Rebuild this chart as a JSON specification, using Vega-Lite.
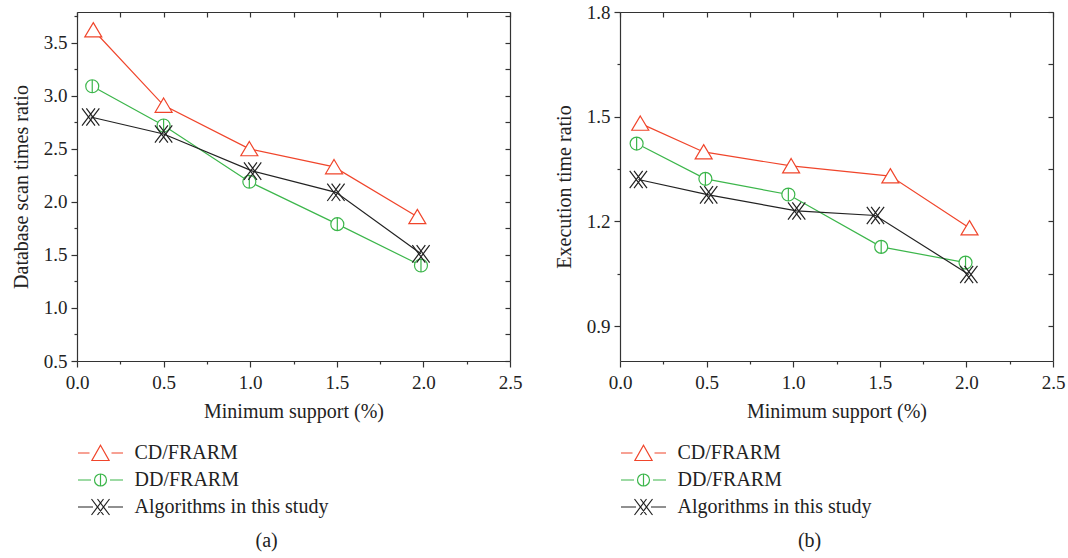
{
  "$schema": "https://vega.github.io/schema/vega-lite/v6.json",
  "padding": {"left": 11, "top": 3, "right": 5, "bottom": 3},
  "background": "white",
  "datasets": {
    "a": [
      {"x": 0.094, "y": 3.62, "series": "CD/FRARM"},
      {"x": 0.5, "y": 2.91, "series": "CD/FRARM"},
      {"x": 0.995, "y": 2.5, "series": "CD/FRARM"},
      {"x": 1.484, "y": 2.33, "series": "CD/FRARM"},
      {"x": 1.965, "y": 1.86, "series": "CD/FRARM"},
      {"x": 0.088, "y": 3.09, "series": "DD/FRARM"},
      {"x": 0.5, "y": 2.72, "series": "DD/FRARM"},
      {"x": 0.995, "y": 2.19, "series": "DD/FRARM"},
      {"x": 1.503, "y": 1.79, "series": "DD/FRARM"},
      {"x": 1.986, "y": 1.4, "series": "DD/FRARM"},
      {"x": 0.079, "y": 2.8, "series": "Algorithms in this study"},
      {"x": 0.5, "y": 2.64, "series": "Algorithms in this study"},
      {"x": 1.014, "y": 2.29, "series": "Algorithms in this study"},
      {"x": 1.495, "y": 2.09, "series": "Algorithms in this study"},
      {"x": 1.986, "y": 1.51, "series": "Algorithms in this study"}
    ],
    "b": [
      {"x": 0.117, "y": 1.481, "series": "CD/FRARM"},
      {"x": 0.483, "y": 1.399, "series": "CD/FRARM"},
      {"x": 0.988, "y": 1.359, "series": "CD/FRARM"},
      {"x": 1.561, "y": 1.33, "series": "CD/FRARM"},
      {"x": 2.018, "y": 1.181, "series": "CD/FRARM"},
      {"x": 0.096, "y": 1.423, "series": "DD/FRARM"},
      {"x": 0.493, "y": 1.322, "series": "DD/FRARM"},
      {"x": 0.972, "y": 1.277, "series": "DD/FRARM"},
      {"x": 1.508, "y": 1.127, "series": "DD/FRARM"},
      {"x": 1.995, "y": 1.082, "series": "DD/FRARM"},
      {"x": 0.106, "y": 1.32, "series": "Algorithms in this study"},
      {"x": 0.512, "y": 1.276, "series": "Algorithms in this study"},
      {"x": 1.02, "y": 1.23, "series": "Algorithms in this study"},
      {"x": 1.475, "y": 1.217, "series": "Algorithms in this study"},
      {"x": 2.014, "y": 1.048, "series": "Algorithms in this study"}
    ]
  },
  "hconcat": [
    {
      "width": 433,
      "height": 349,
      "data": {"name": "a"},
      "title": {"text": "(a)", "orient": "bottom", "anchor": "middle", "frame": "bounds", "fontSize": 20, "font": "Liberation Serif", "fontWeight": "normal", "color": "#222", "offset": 13},
      "resolve": {"axis": {"x": "independent", "y": "independent"}},
      "layer": [
        {
          "mark": {"type": "line", "strokeWidth": 1.2},
          "encoding": {
            "x": {"field": "x", "type": "quantitative", "scale": {"domain": [0, 2.5], "nice": false, "zero": false},
              "axis": {"orient": "bottom", "values": [0, 0.5, 1, 1.5, 2, 2.5], "format": ".1f", "tickSize": 6, "labelPadding": 6, "title": "Minimum support (%)", "titlePadding": 9}},
            "y": {"field": "y", "type": "quantitative", "scale": {"domain": [0.5, 3.79], "nice": false, "zero": false},
              "axis": {"orient": "left", "values": [0.5, 1, 1.5, 2, 2.5, 3, 3.5], "format": ".1f", "tickSize": 6, "labelPadding": 4, "title": "Database scan times ratio", "titlePadding": 12}},
            "stroke": {"field": "series", "type": "nominal",
              "scale": {"domain": ["CD/FRARM", "DD/FRARM", "Algorithms in this study"], "range": ["#f0452b", "#3cb64b", "#222222"]},
              "legend": {"orient": "bottom", "direction": "vertical", "columns": 1, "title": null, "labelFont": "Liberation Serif", "labelFontSize": 20, "labelColor": "#222", "labelLimit": 400, "symbolSize": 400, "symbolOffset": 12.5, "symbolStrokeWidth": 1.2, "symbolOpacity": 1, "symbolFillColor": "transparent", "labelOffset": 23, "rowPadding": 6, "offset": 21}}
          }
        },
        {
          "mark": {"type": "point", "opacity": 0, "filled": false},
          "encoding": {
            "x": {"field": "x", "type": "quantitative", "axis": null},
            "y": {"field": "y", "type": "quantitative", "axis": null},
            "stroke": {"field": "series", "type": "nominal"},
            "shape": {"field": "series", "type": "nominal",
              "scale": {"domain": ["CD/FRARM", "DD/FRARM", "Algorithms in this study"], "range": ["M-2.25,0L-1.1,0M1.1,0L2.25,0M0,-0.78L0.86,0.75L-0.86,0.75Z", "M-2.25,0L-0.95,0M0.95,0L2.25,0M-0.6,0A0.6,0.6,0,1,0,0.6,0A0.6,0.6,0,1,0,-0.6,0M0,-0.6L0,0.6", "M-2.25,0L-0.75,0M0.75,0L2.25,0M-0.9,-0.8L0.3,0.8M-0.3,-0.8L0.9,0.8M-0.9,0.8L0.3,-0.8M-0.3,0.8L0.9,-0.8"]},
              "legend": {"orient": "bottom", "direction": "vertical", "columns": 1, "title": null, "labelFont": "Liberation Serif", "labelFontSize": 20, "labelColor": "#222", "labelLimit": 400, "symbolSize": 400, "symbolOffset": 12.5, "symbolStrokeWidth": 1.2, "symbolOpacity": 1, "symbolFillColor": "transparent", "labelOffset": 23, "rowPadding": 6, "offset": 21}}
          }
        },
        {
          "transform": [{"filter": "datum.series === 'CD/FRARM'"}],
          "mark": {"type": "point", "shape": "M0,-0.85L0.98,0.8L-0.98,0.8Z", "fill": "white", "strokeWidth": 1.2, "size": 300, "opacity": 1},
          "encoding": {
            "x": {"field": "x", "type": "quantitative", "axis": {"orient": "top", "values": [0, 0.25, 0.5, 0.75, 1, 1.25, 1.5, 1.75, 2, 2.25, 2.5], "tickSize": -5, "labels": false, "title": null}},
            "y": {"field": "y", "type": "quantitative", "axis": {"orient": "right", "values": [0.5, 0.75, 1, 1.25, 1.5, 1.75, 2, 2.25, 2.5, 2.75, 3, 3.25, 3.5, 3.75], "tickSize": -5, "labels": false, "title": null}},
            "stroke": {"field": "series", "type": "nominal"}
          }
        },
        {
          "transform": [{"filter": "datum.series === 'DD/FRARM'"}],
          "mark": {"type": "point", "shape": "M-0.75,0A0.75,0.75,0,1,0,0.75,0A0.75,0.75,0,1,0,-0.75,0ZM0,-0.75L0,0.75", "fill": "white", "strokeWidth": 1.2, "size": 300, "opacity": 1},
          "encoding": {
            "x": {"field": "x", "type": "quantitative", "axis": null},
            "y": {"field": "y", "type": "quantitative", "axis": null},
            "stroke": {"field": "series", "type": "nominal"}
          }
        },
        {
          "transform": [{"filter": "datum.series === 'Algorithms in this study'"}],
          "mark": {"type": "point", "shape": "M-1,-1L0.5,1M-0.5,-1L1,1M-1,1L0.5,-1M-0.5,1L1,-1", "fill": "transparent", "strokeWidth": 1.2, "size": 300, "opacity": 1},
          "encoding": {
            "x": {"field": "x", "type": "quantitative", "axis": {"orient": "bottom", "values": [0.25, 0.75, 1.25, 1.75, 2.25], "tickSize": 3, "labels": false, "domain": false, "title": null}},
            "y": {"field": "y", "type": "quantitative", "axis": {"orient": "left", "values": [0.75, 1.25, 1.75, 2.25, 2.75, 3.25, 3.75], "tickSize": 3, "labels": false, "domain": false, "title": null}},
            "stroke": {"field": "series", "type": "nominal"}
          }
        }
      ]
    },
    {
      "width": 433,
      "height": 349,
      "data": {"name": "b"},
      "title": {"text": "(b)", "orient": "bottom", "anchor": "middle", "frame": "bounds", "fontSize": 20, "font": "Liberation Serif", "fontWeight": "normal", "color": "#222", "offset": 13},
      "resolve": {"axis": {"x": "independent", "y": "independent"}},
      "layer": [
        {
          "mark": {"type": "line", "strokeWidth": 1.2},
          "encoding": {
            "x": {"field": "x", "type": "quantitative", "scale": {"domain": [0, 2.5], "nice": false, "zero": false},
              "axis": {"orient": "bottom", "values": [0, 0.5, 1, 1.5, 2, 2.5], "format": ".1f", "tickSize": 6, "labelPadding": 6, "title": "Minimum support (%)", "titlePadding": 9}},
            "y": {"field": "y", "type": "quantitative", "scale": {"domain": [0.8, 1.8], "nice": false, "zero": false},
              "axis": {"orient": "left", "values": [0.9, 1.2, 1.5, 1.8], "format": ".1f", "tickSize": 6, "labelPadding": 4, "title": "Execution time ratio", "titlePadding": 12}},
            "stroke": {"field": "series", "type": "nominal",
              "scale": {"domain": ["CD/FRARM", "DD/FRARM", "Algorithms in this study"], "range": ["#f0452b", "#3cb64b", "#222222"]},
              "legend": {"orient": "bottom", "direction": "vertical", "columns": 1, "title": null, "labelFont": "Liberation Serif", "labelFontSize": 20, "labelColor": "#222", "labelLimit": 400, "symbolSize": 400, "symbolOffset": 12.5, "symbolStrokeWidth": 1.2, "symbolOpacity": 1, "symbolFillColor": "transparent", "labelOffset": 23, "rowPadding": 6, "offset": 21}}
          }
        },
        {
          "mark": {"type": "point", "opacity": 0, "filled": false},
          "encoding": {
            "x": {"field": "x", "type": "quantitative", "axis": null},
            "y": {"field": "y", "type": "quantitative", "axis": null},
            "stroke": {"field": "series", "type": "nominal"},
            "shape": {"field": "series", "type": "nominal",
              "scale": {"domain": ["CD/FRARM", "DD/FRARM", "Algorithms in this study"], "range": ["M-2.25,0L-1.1,0M1.1,0L2.25,0M0,-0.78L0.86,0.75L-0.86,0.75Z", "M-2.25,0L-0.95,0M0.95,0L2.25,0M-0.6,0A0.6,0.6,0,1,0,0.6,0A0.6,0.6,0,1,0,-0.6,0M0,-0.6L0,0.6", "M-2.25,0L-0.75,0M0.75,0L2.25,0M-0.9,-0.8L0.3,0.8M-0.3,-0.8L0.9,0.8M-0.9,0.8L0.3,-0.8M-0.3,0.8L0.9,-0.8"]},
              "legend": {"orient": "bottom", "direction": "vertical", "columns": 1, "title": null, "labelFont": "Liberation Serif", "labelFontSize": 20, "labelColor": "#222", "labelLimit": 400, "symbolSize": 400, "symbolOffset": 12.5, "symbolStrokeWidth": 1.2, "symbolOpacity": 1, "symbolFillColor": "transparent", "labelOffset": 23, "rowPadding": 6, "offset": 21}}
          }
        },
        {
          "transform": [{"filter": "datum.series === 'CD/FRARM'"}],
          "mark": {"type": "point", "shape": "M0,-0.85L0.98,0.8L-0.98,0.8Z", "fill": "white", "strokeWidth": 1.2, "size": 300, "opacity": 1},
          "encoding": {
            "x": {"field": "x", "type": "quantitative", "axis": {"orient": "top", "values": [0, 0.25, 0.5, 0.75, 1, 1.25, 1.5, 1.75, 2, 2.25, 2.5], "tickSize": -5, "labels": false, "title": null}},
            "y": {"field": "y", "type": "quantitative", "axis": {"orient": "right", "values": [0.9, 1.05, 1.2, 1.35, 1.5, 1.65, 1.8], "tickSize": -5, "labels": false, "title": null}},
            "stroke": {"field": "series", "type": "nominal"}
          }
        },
        {
          "transform": [{"filter": "datum.series === 'DD/FRARM'"}],
          "mark": {"type": "point", "shape": "M-0.75,0A0.75,0.75,0,1,0,0.75,0A0.75,0.75,0,1,0,-0.75,0ZM0,-0.75L0,0.75", "fill": "white", "strokeWidth": 1.2, "size": 300, "opacity": 1},
          "encoding": {
            "x": {"field": "x", "type": "quantitative", "axis": null},
            "y": {"field": "y", "type": "quantitative", "axis": null},
            "stroke": {"field": "series", "type": "nominal"}
          }
        },
        {
          "transform": [{"filter": "datum.series === 'Algorithms in this study'"}],
          "mark": {"type": "point", "shape": "M-1,-1L0.5,1M-0.5,-1L1,1M-1,1L0.5,-1M-0.5,1L1,-1", "fill": "transparent", "strokeWidth": 1.2, "size": 300, "opacity": 1},
          "encoding": {
            "x": {"field": "x", "type": "quantitative", "axis": {"orient": "bottom", "values": [0.25, 0.75, 1.25, 1.75, 2.25], "tickSize": 3, "labels": false, "domain": false, "title": null}},
            "y": {"field": "y", "type": "quantitative", "axis": {"orient": "left", "values": [1.05, 1.35, 1.65], "tickSize": 3, "labels": false, "domain": false, "title": null}},
            "stroke": {"field": "series", "type": "nominal"}
          }
        }
      ]
    }
  ],
  "resolve": {"scale": {"stroke": "independent", "shape": "independent"}},
  "spacing": 32,
  "config": {
    "font": "Liberation Serif",
    "view": {"stroke": null},
    "axis": {"labelFont": "Liberation Serif", "labelFontSize": 19, "labelColor": "#222", "titleFont": "Liberation Serif", "titleFontSize": 20, "titleFontWeight": "normal", "titleColor": "#222", "domainColor": "#333", "tickColor": "#333", "domainWidth": 1.2, "tickWidth": 1.2, "grid": false, "labelFlush": false, "labelOverlap": false}
  }
}
